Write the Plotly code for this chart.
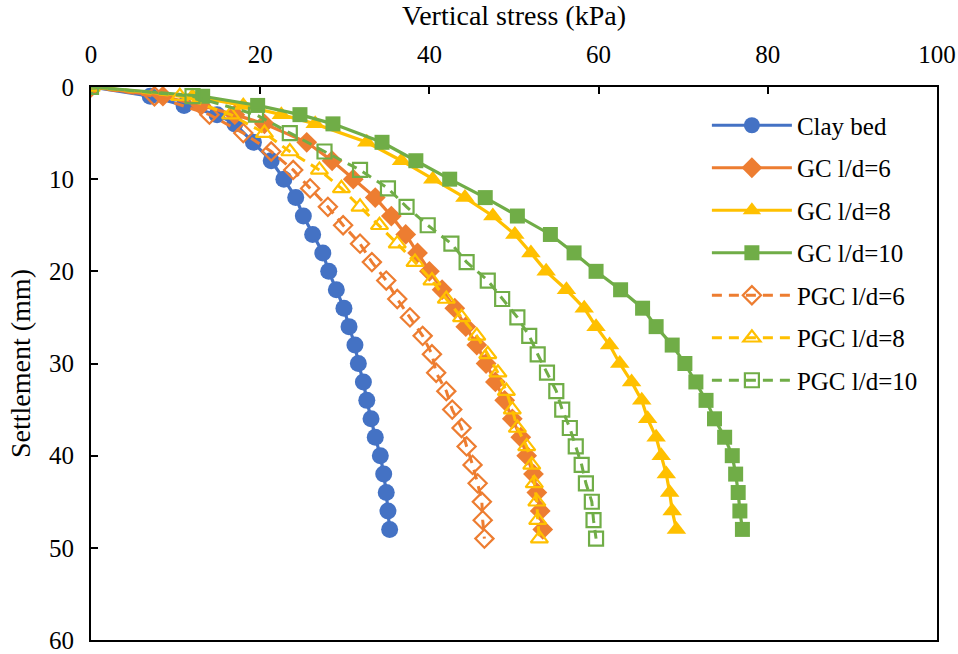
import plotly.graph_objects as go

# Settlement levels (mm) at which each load test was read
settle_gc = [0, 1, 2, 3, 4, 6, 8, 10, 12, 14, 16, 18, 20, 22, 24, 26, 28, 30,
             32, 34, 36, 38, 40, 42, 44, 46, 48]
settle_pgc = [0, 1, 3, 5, 7, 9, 11, 13, 15, 17, 19, 21, 23, 25, 27, 29, 31, 33,
              35, 37, 39, 41, 43, 45, 47, 49]

# Vertical stress (kPa) for each series
clay_bed = [0, 7.0, 11.0, 14.9, 17.0, 19.2, 21.3, 22.8, 24.2, 25.1, 26.2, 27.4,
            28.1, 29.0, 29.9, 30.5, 31.2, 31.6, 32.2, 32.6, 33.1, 33.6, 34.2,
            34.6, 34.9, 35.1, 35.3]
gc_6 = [0, 8.5, 13.0, 17.0, 20.5, 25.5, 28.5, 31.0, 33.6, 35.5, 37.2, 38.6,
        40.0, 41.5, 43.0, 44.3, 45.6, 46.7, 47.8, 48.9, 49.8, 50.8, 51.5, 52.3,
        52.7, 53.1, 53.4]
gc_8 = [0, 12.0, 18.0, 22.5, 26.5, 32.6, 36.7, 40.4, 44.2, 47.5, 50.1, 52.0,
        53.8, 56.2, 58.3, 59.7, 61.3, 62.5, 63.9, 65.1, 65.8, 66.8, 67.4, 68.0,
        68.4, 68.7, 69.2]
gc_10 = [0, 13.2, 19.7, 24.7, 28.6, 34.4, 38.4, 42.4, 46.6, 50.4, 54.3, 57.1,
         59.7, 62.6, 65.2, 66.8, 68.7, 70.2, 71.5, 72.7, 73.7, 74.9, 75.8, 76.2,
         76.5, 76.7, 77.0]
pgc_6 = [0, 7.5, 14.0, 18.0, 21.3, 23.9, 25.9, 28.0, 29.8, 31.8, 33.2, 34.9,
         36.2, 37.7, 39.2, 40.3, 40.8, 42.0, 42.7, 43.8, 44.4, 45.1, 45.7, 46.2,
         46.3, 46.5]
pgc_8 = [0, 10.5, 16.5, 20.5, 23.5, 27.0, 29.6, 31.8, 34.1, 36.2, 38.3, 40.3,
         42.0, 43.8, 45.6, 46.9, 48.1, 49.1, 49.8, 50.4, 51.5, 52.1, 52.4, 52.7,
         52.8, 53.0]
pgc_10 = [0, 12.0, 19.5, 23.5, 27.6, 31.8, 35.1, 37.3, 39.8, 42.6, 44.4, 46.9,
          48.6, 50.4, 51.8, 52.8, 53.9, 55.0, 55.7, 56.6, 57.3, 58.0, 58.5,
          59.2, 59.4, 59.7]

x_ticks = [0, 20, 40, 60, 80, 100]
y_ticks = [0, 10, 20, 30, 40, 50, 60]

BLUE, ORANGE, YELLOW, GREEN = "#4472C4", "#ED7D31", "#FFC000", "#70AD47"
DASH = "10px,7px"

series = [
    ("Clay bed", clay_bed, settle_gc, BLUE, "circle", 17, "solid"),
    ("GC l/d=6", gc_6, settle_gc, ORANGE, "diamond", 16, "solid"),
    ("GC l/d=8", gc_8, settle_gc, YELLOW, "triangle-up", 17, "solid"),
    ("GC l/d=10", gc_10, settle_gc, GREEN, "square", 15, "solid"),
    ("PGC l/d=6", pgc_6, settle_pgc, ORANGE, "diamond-open", 14, DASH),
    ("PGC l/d=8", pgc_8, settle_pgc, YELLOW, "triangle-up-open", 15, DASH),
    ("PGC l/d=10", pgc_10, settle_pgc, GREEN, "square-open", 14, DASH),
]

fig = go.Figure()
for name, stress, settle, color, symbol, size, dash in series:
    is_open = symbol.endswith("open")
    fig.add_trace(go.Scatter(
        x=stress, y=settle, name=name, mode="lines+markers",
        legendgroup=name,
        line=dict(color=color, width=3.2 if not is_open else 3, dash=dash),
        marker=dict(symbol=symbol, size=size, color=color,
                    line=dict(color=color, width=2.2 if is_open else 0)),
    ))

font_family = "Liberation Serif, Times New Roman, serif"
fig.update_layout(
    width=958, height=654,
    margin=dict(l=91, r=21, t=87, b=14),
    paper_bgcolor="white", plot_bgcolor="white",
    font=dict(family=font_family, size=25, color="black"),
    legend=dict(x=0.728, y=0.972, xanchor="left", yanchor="top",
                bgcolor="rgba(0,0,0,0)", font=dict(size=25),
                tracegroupgap=7, itemwidth=80),
    xaxis=dict(
        side="top", range=[0, 100], tickvals=x_ticks, automargin=False,
        showline=True, linecolor="black", linewidth=2, mirror=True,
        ticks="inside", ticklen=7, tickwidth=2, tickcolor="black",
        showgrid=False, zeroline=False, ticklabelstandoff=12,
        tickfont=dict(size=25),
        title=dict(text="Vertical stress (kPa)", font=dict(size=28), standoff=9),
    ),
    yaxis=dict(
        range=[60, 0], tickvals=y_ticks, automargin=False,
        showline=True, linecolor="black", linewidth=2, mirror=True,
        ticks="inside", ticklen=7, tickwidth=2, tickcolor="black",
        showgrid=False, zeroline=False, ticklabelstandoff=10,
        tickfont=dict(size=25),
        title=dict(text="Settlement (mm)", font=dict(size=28), standoff=10),
    ),
)

fig.write_html("out.html")
